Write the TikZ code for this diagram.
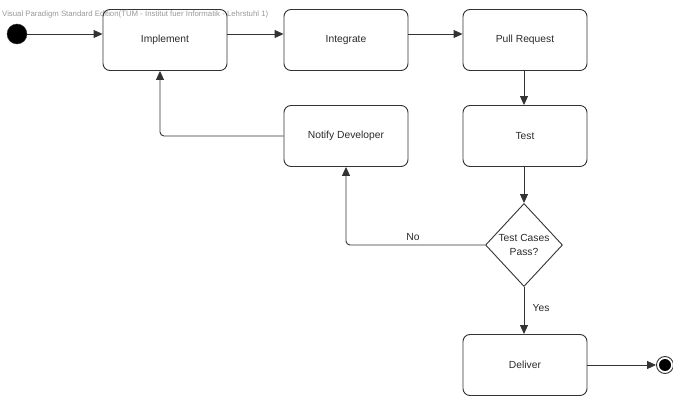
\documentclass[tikz,border=0pt]{standalone}
\usepackage{fontspec}
\setmainfont{Liberation Sans}
\usetikzlibrary{arrows.meta,shapes.geometric}
\definecolor{linec}{HTML}{333333}
\definecolor{textc}{HTML}{2A2A2A}
\tikzset{
  state/.style={draw=linec, line width=0.9pt, rounded corners=7pt, minimum width=124pt, minimum height=61pt, inner sep=0pt, font=\fontsize{10.3}{12}\selectfont, text=textc},
  choice/.style={draw=linec, line width=0.9pt, diamond, minimum width=77pt, minimum height=83pt, inner sep=0pt, align=center, font=\fontsize{10.3}{13}\selectfont, text=textc},
  flow/.style={draw=linec, line width=0.9pt, -{Triangle[length=9pt,width=8pt]}},
  lbl/.style={font=\fontsize{10.3}{12}\selectfont, text=textc},
}
\begin{document}
\begin{tikzpicture}[x=1pt,y=-1pt]
\useasboundingbox (0,0) rectangle (673,396);
\node[anchor=west, text=black!40, font=\fontsize{7.8}{9}\selectfont, inner sep=0pt] (wm) at (2,14) {Visual Paradigm Standard Edition(TUM - Institut fuer Informatik - Lehrstuhl 1)};
\node[circle, fill=black, draw=linec, minimum size=20pt, inner sep=0pt] (init) at (17,34) {};
\node[state] (impl) at (165,40) {Implement};
\node[state] (integ) at (346,40) {Integrate};
\node[state] (pr) at (525,40) {Pull Request};
\node[state] (test) at (525,136) {Test};
\node[state] (notify) at (346,136) {Notify Developer};
\node[choice] (dec) at (524,245) {Test Cases\\[1pt]Pass?};
\node[state] (deliver) at (525,365) {Deliver};
\node[circle, draw=linec, line width=0.9pt, minimum size=17pt, inner sep=0pt] (final) at (665,365) {};
\node[circle, fill=black, minimum size=12pt, inner sep=0pt] (finalin) at (final.center) {};
\coordinate (c1) at (impl.west |- init);
\coordinate (c2) at (integ.west |- init);
\coordinate (c3) at (pr.west |- init);
\draw[flow] (init.east) -- (c1);
\draw[flow] (impl.east |- init) -- (c2);
\draw[flow] (integ.east |- init) -- (c3);
\draw[flow] (pr.south -| dec) -- (test.north -| dec);
\draw[flow] (test.south -| dec) -- (dec.north);
\draw[flow] (dec.south) -- (deliver.north -| dec);
\draw[flow] (deliver.east) -- (final.west);
\coordinate (lp) at (160,136);
\draw[flow, rounded corners=4pt] (notify.west) -- (lp) -- (lp |- impl.south);
\draw[flow, rounded corners=4pt] (dec.west) -- (notify.south |- dec.west) -- (notify.south);
\node[lbl] (no) at (413,237) {No};
\node[lbl] (yes) at (541,308) {Yes};
\end{tikzpicture}
\end{document}
